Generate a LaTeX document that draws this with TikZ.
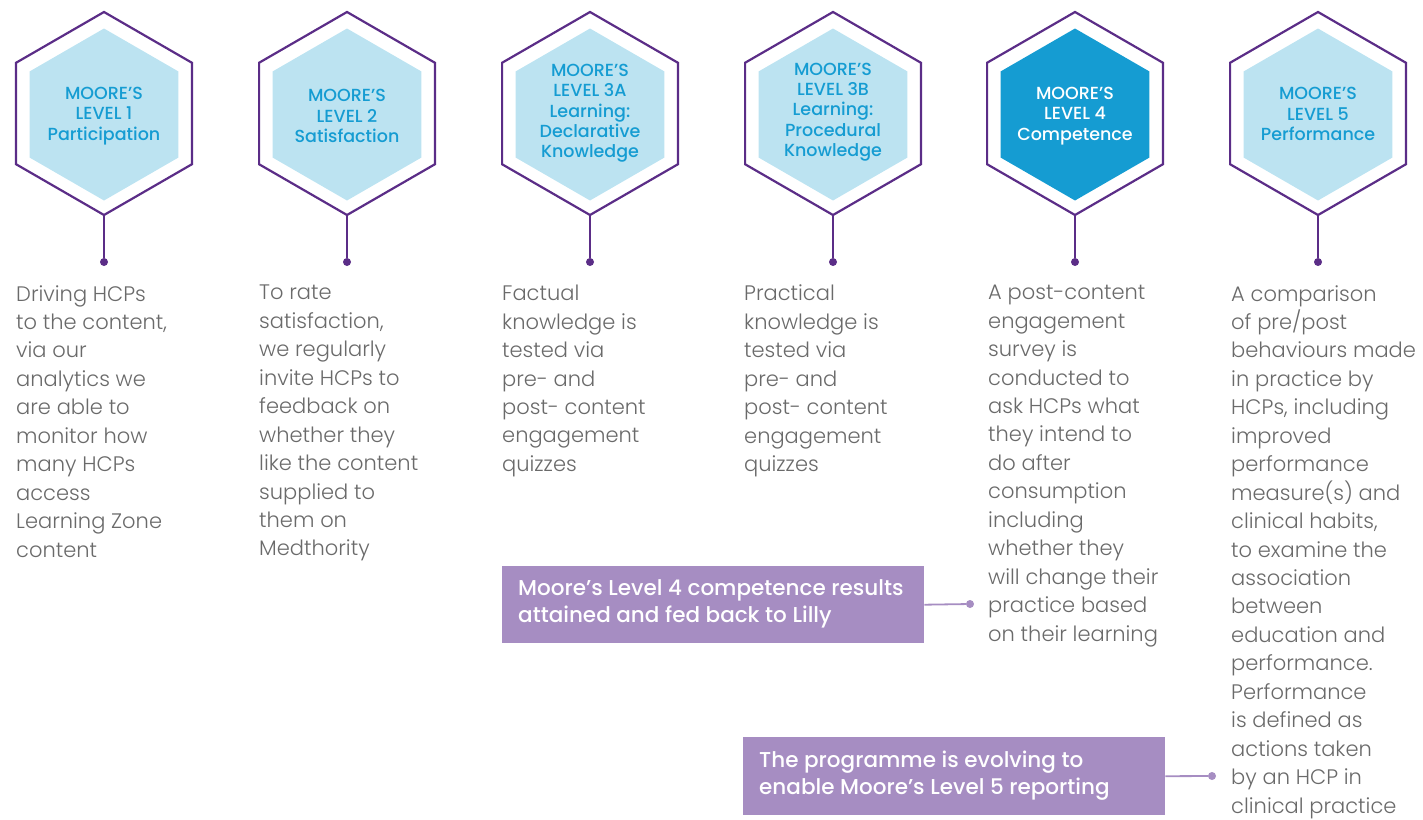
\documentclass[tikz,border=0pt]{standalone}
\usepackage{fontspec}
\setmainfont{Poppins}[UprightFont=* Light, BoldFont=* Medium]
\usetikzlibrary{shapes.geometric}
\definecolor{hexline}{HTML}{5B2D87}
\definecolor{lightblue}{HTML}{BCE3F1}
\definecolor{brightblue}{HTML}{159CD2}
\definecolor{bodygray}{HTML}{6A6A6A}
\definecolor{boxpurple}{HTML}{A68DC2}
\tikzset{
  outerhex/.style={regular polygon, regular polygon sides=6, shape border rotate=30,
    minimum size=203pt, inner sep=0pt, outer sep=0pt, draw=hexline, line width=2.2pt},
  innerhex/.style={regular polygon, regular polygon sides=6, shape border rotate=30,
    minimum size=172pt, inner sep=0pt, outer sep=0pt, fill=lightblue},
  darkhex/.style={innerhex, fill=brightblue},
  hexlabel/.style={align=center, text=brightblue, font=\bfseries\fontsize{17.5}{20.3}\selectfont, inner sep=0pt},
  hexlabelw/.style={hexlabel, text=white},
  dotnode/.style={circle, fill=hexline, minimum size=8pt, inner sep=0pt},
  stem/.style={draw=hexline, line width=1.8pt},
  body/.style={anchor=north west, align=left, text=bodygray, inner sep=0pt,
    font=\fontsize{21}{28.45}\selectfont},
  callout/.style={text=white, align=left,
    font=\bfseries\fontsize{21.5}{27}\selectfont, inner sep=0pt},
  calloutline/.style={draw=boxpurple, line width=1.8pt},
  calldot/.style={circle, fill=boxpurple, minimum size=8pt, inner sep=0pt},
  calloutbox/.style={fill=boxpurple, anchor=north west, inner sep=0pt, minimum width=422pt},
}
\begin{document}
\begin{tikzpicture}[x=1pt,y=-1pt]
\useasboundingbox (0,0) rectangle (1423,819);

% hexagons
\foreach \i/\cx in {1/104,2/347,3/590,4/833,5/1075,6/1318}{
  \node[outerhex] (h\i) at (\cx,113.5) {};
  \node[dotnode] (d\i) at (\cx,262) {};
  \draw[stem] (h\i.south) -- (d\i);
}
\foreach \i/\cx in {1/104,2/347,3/590,4/833,6/1318}{
  \node[innerhex] (ih\i) at (\cx,114.5) {};
}
\node[darkhex] (ih5) at (1075,114.5) {};

\node[hexlabel] (l1) at (104,116) {MOORE’S\\LEVEL 1\\Participation};
\node[hexlabel] (l2) at (347,116) {MOORE’S\\LEVEL 2\\Satisfaction};
\node[hexlabel] (l3) at (590,113.5) {MOORE’S\\LEVEL 3A\\Learning:\\Declarative\\Knowledge};
\node[hexlabel] (l4) at (833,112) {MOORE’S\\LEVEL 3B\\Learning:\\Procedural\\Knowledge};
\node[hexlabelw] (l5) at (1075,116) {MOORE’S\\LEVEL 4\\Competence};
\node[hexlabel] (l6) at (1318,114) {MOORE’S\\LEVEL 5\\Performance};

% body texts
\node[body] (t1) at (16,285) {Driving HCPs\\to the content,\\via our\\analytics we\\are able to\\monitor how\\many HCPs\\access\\Learning Zone\\content};
\node[body] (t2) at (259,285) {To rate\\satisfaction,\\we regularly\\invite HCPs to\\feedback on\\whether they\\like the content\\supplied to\\them on\\Medthority};
\node[body] (t3) at (502,285) {Factual\\knowledge is\\tested via\\pre- and\\post- content\\engagement\\quizzes};
\node[body] (t4) at (744,285) {Practical\\knowledge is\\tested via\\pre- and\\post- content\\engagement\\quizzes};
\node[body] (t5) at (988,285) {A post-content\\engagement\\survey is\\conducted to\\ask HCPs what\\they intend to\\do after\\consumption\\including\\whether they\\will change their\\practice based\\on their learning};
\node[body] (t6) at (1231,285) {A comparison\\of pre/post\\behaviours made\\in practice by\\HCPs, including\\improved\\performance\\measure(s) and\\clinical habits,\\to examine the\\association\\between\\education and\\performance.\\Performance\\is defined as\\actions taken\\by an HCP in\\clinical practice};

% callout boxes
\node[calloutbox, minimum height=77pt] (b1) at (502,566) {};
\node[callout, anchor=west] (c1) at (518,604) {Moore’s Level 4 competence results\\attained and fed back to Lilly};
\node[calldot] (cd1) at (970,604) {};
\draw[calloutline] (b1.east) -- (cd1);

\node[calloutbox, minimum height=78pt] (b2) at (743,737) {};
\node[callout, anchor=west] (c2) at (759,776) {The programme is evolving to\\enable Moore’s Level 5 reporting};
\node[calldot] (cd2) at (1212,776) {};
\draw[calloutline] (b2.east) -- (cd2);
\end{tikzpicture}
\end{document}
